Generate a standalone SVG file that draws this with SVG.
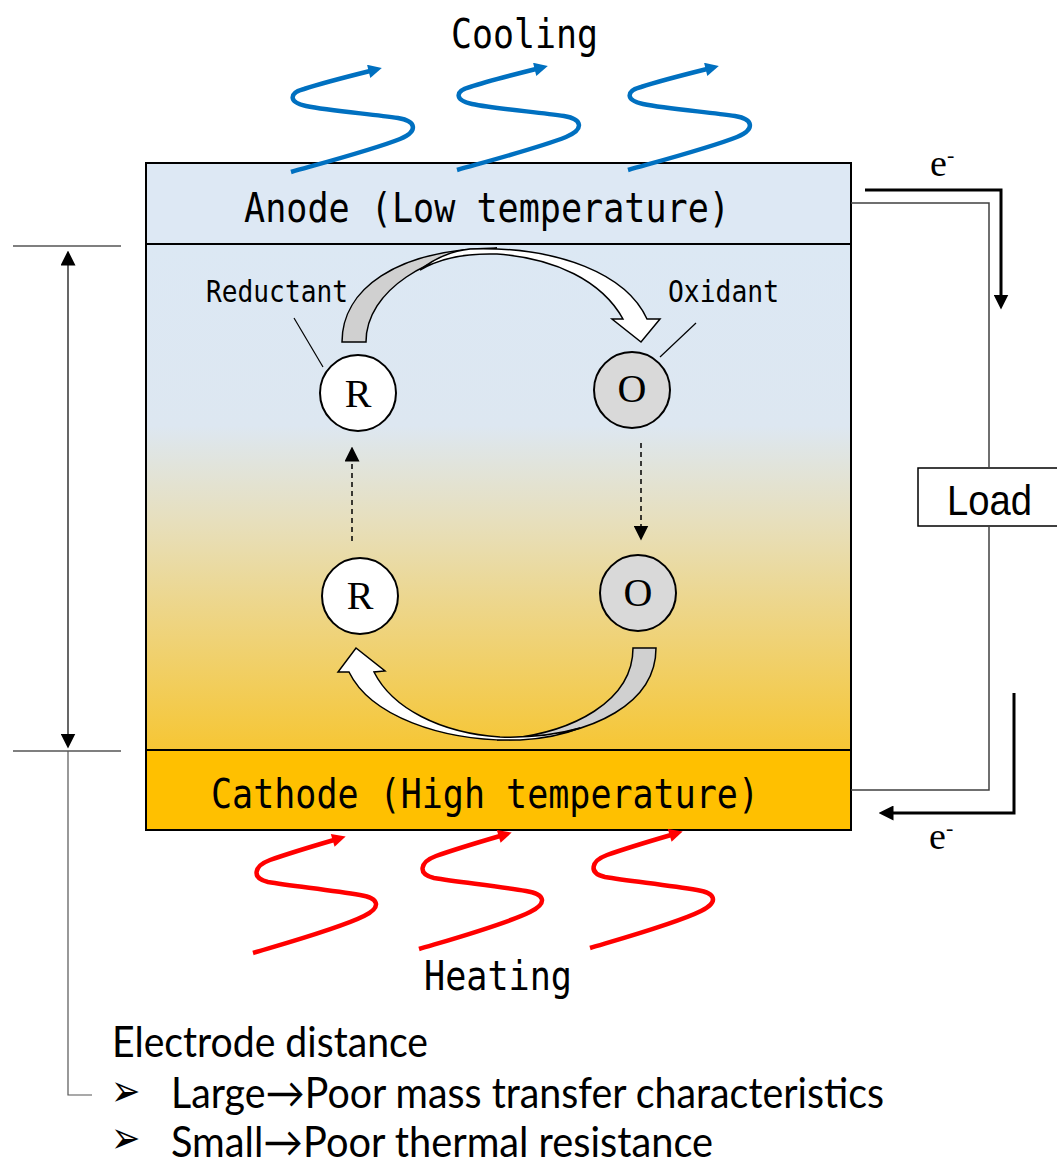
<svg xmlns="http://www.w3.org/2000/svg" width="1057" height="1164" viewBox="0 0 1057 1164">
<style>
.mono{font-family:"DejaVu Sans Mono",monospace;fill:#000}
.serif{font-family:"Liberation Serif","Times New Roman",serif;fill:#000}
.cal{font-family:Lato,"DejaVu Sans",sans-serif;fill:#000}
.bul{font-family:"DejaVu Sans",sans-serif;fill:#000}
.wave{fill:none;stroke-width:4.5;stroke-linecap:butt}
.cool{stroke:#0070c0}
.heat{stroke:#ff0000}
.wire{fill:none;stroke:#404040;stroke-width:1.5}
.earrow{fill:none;stroke:#000;stroke-width:3}
.thin{fill:none;stroke:#000;stroke-width:1.2}
.dash{fill:none;stroke:#000;stroke-width:1.5;stroke-dasharray:5 4}
.circ{stroke:#000;stroke-width:2}
</style>
<defs>
<marker id="mBlue" viewBox="0 0 10 10" refX="1" refY="5" markerWidth="3.6" markerHeight="3" orient="auto" markerUnits="strokeWidth"><path d="M0,0 L10,5 L0,10 Z" fill="#0070c0"/></marker>
<marker id="mRed" viewBox="0 0 10 10" refX="1" refY="5" markerWidth="3.6" markerHeight="3" orient="auto" markerUnits="strokeWidth"><path d="M0,0 L10,5 L0,10 Z" fill="#ff0000"/></marker>
<marker id="mBlk" viewBox="0 0 10 10" refX="1" refY="5" markerWidth="15" markerHeight="15" orient="auto-start-reverse" markerUnits="userSpaceOnUse"><path d="M0,0 L10,5 L0,10 Z" fill="#000"/></marker>
<marker id="mBlkS" viewBox="0 0 10 10" refX="1" refY="5" markerWidth="15" markerHeight="15" orient="auto" markerUnits="userSpaceOnUse"><path d="M0,0 L10,5 L0,10 Z" fill="#000"/></marker>
<linearGradient id="bodyGrad" x1="0" y1="0" x2="0" y2="1">
<stop offset="0" stop-color="#dce8f4"/>
<stop offset="0.36" stop-color="#dde7f1"/>
<stop offset="0.55" stop-color="#e7dfbc"/>
<stop offset="0.75" stop-color="#eed480"/>
<stop offset="1" stop-color="#f6c634"/>
</linearGradient>
<path id="coolWave" d="M291,172 C330,161 375,149 400,139 C419,131 416,121 398,118 C372,114 330,111 306,106 C288,102 289,93 304,89 C322,83 346,77 370,71"/>
<path id="heatWave" d="M253,953 C290,942 340,928 364,916 C382,907 379,898 360,895 C330,890 292,886 268,882 C251,878 254,866 270,860 C290,853 310,847 334,840"/>
</defs>

<g id="cell-body">
<rect x="146" y="244" width="705" height="506" fill="url(#bodyGrad)" stroke="#000" stroke-width="2"/>
</g>
<g id="anode">
<rect x="146" y="163" width="705" height="81" fill="#dde8f4" stroke="#000" stroke-width="2"/>
<text class="mono" x="244" y="222" font-size="40" textLength="486" lengthAdjust="spacingAndGlyphs">Anode (Low temperature)</text>
</g>
<g id="cathode">
<rect x="146" y="750" width="705" height="80" fill="#ffc000" stroke="#000" stroke-width="2"/>
<text class="mono" x="211" y="808" font-size="40" textLength="548" lengthAdjust="spacingAndGlyphs">Cathode (High temperature)</text>
</g>

<g id="cooling">
<use href="#coolWave" class="wave cool" marker-end="url(#mBlue)"/>
<use href="#coolWave" class="wave cool" marker-end="url(#mBlue)" transform="translate(166,-2)"/>
<use href="#coolWave" class="wave cool" marker-end="url(#mBlue)" transform="translate(337,-2)"/>
<text class="mono" x="451" y="48" font-size="40" textLength="147" lengthAdjust="spacingAndGlyphs">Cooling</text>
</g>
<g id="heating">
<use href="#heatWave" class="wave heat" marker-end="url(#mRed)"/>
<use href="#heatWave" class="wave heat" marker-end="url(#mRed)" transform="translate(166,-4)"/>
<use href="#heatWave" class="wave heat" marker-end="url(#mRed)" transform="translate(337,-5)"/>
<text class="mono" x="424" y="990" font-size="40" textLength="148" lengthAdjust="spacingAndGlyphs">Heating</text>
</g>

<g id="upper-curved-arrow">
<path d="M342,342 C342,290 395,249 497,248 C430,252 366,290 366,342 Z" fill="#d0d0d0" stroke="#000" stroke-width="1.5"/>
<path d="M470,249 C560,246 627,275 647,319 L660,319 L641,342 L612,319 L623,319 C602,281 555,258 497,254 C465,253 440,258 420,270 C435,258 452,251 470,249 Z" fill="#fff" stroke="#000" stroke-width="1.5" stroke-linejoin="miter"/>
</g>
<g id="lower-curved-arrow">
<path d="M633,648 L656,648 C656,700 600,738 497,740 C575,734 633,700 633,648 Z" fill="#d0d0d0" stroke="#000" stroke-width="1.5"/>
<path d="M520,740 C440,742 370,715 349,672 L338,672 L356,648 L385,671 L374,672 C392,708 440,733 500,737 C530,738 555,735 580,728 C560,736 540,739 520,740 Z" fill="#fff" stroke="#000" stroke-width="1.5"/>
</g>

<g id="node-R-top">
<circle class="circ" cx="358" cy="393" r="38" fill="#fff"/>
<text class="serif" x="358" y="407" font-size="40" text-anchor="middle">R</text>
</g>
<g id="node-O-top">
<circle class="circ" cx="632" cy="390" r="38" fill="#d9d9d9"/>
<text class="serif" x="632" y="402" font-size="40" text-anchor="middle">O</text>
</g>
<g id="node-R-bottom">
<circle class="circ" cx="360" cy="596" r="38" fill="#fff"/>
<text class="serif" x="360" y="609" font-size="40" text-anchor="middle">R</text>
</g>
<g id="node-O-bottom">
<circle class="circ" cx="638" cy="593" r="38" fill="#d9d9d9"/>
<text class="serif" x="638" y="606" font-size="40" text-anchor="middle">O</text>
</g>

<g id="label-reductant">
<text class="mono" x="206" y="302" font-size="30" textLength="142" lengthAdjust="spacingAndGlyphs">Reductant</text>
</g>
<g id="label-oxidant">
<text class="mono" x="668" y="302" font-size="30" textLength="111" lengthAdjust="spacingAndGlyphs">Oxidant</text>
</g>

<g id="load">
<rect x="918" y="468" width="150" height="58" fill="#fff" stroke="#000" stroke-width="1.5"/>
<text x="947" y="515" font-family="'Liberation Sans',Arial,sans-serif" font-size="43" textLength="85" lengthAdjust="spacingAndGlyphs">Load</text>
</g>
<g id="electron-labels">
<text class="serif" x="930" y="176" font-size="38">e<tspan font-size="22" dy="-14">-</tspan></text>
<text class="serif" x="929" y="849" font-size="38">e<tspan font-size="22" dy="-14">-</tspan></text>
</g>

<g id="connectors">
<line x1="294" y1="318" x2="323" y2="367" class="thin" stroke-width="1"/>
<line x1="660" y1="357" x2="696" y2="323" class="thin" stroke-width="1"/>
<line x1="352" y1="541" x2="352" y2="460" class="dash" marker-end="url(#mBlkS)"/>
<line x1="641" y1="443" x2="641" y2="527" class="dash" marker-end="url(#mBlkS)"/>
<path class="wire" d="M851,203 H989 V468"/>
<path class="wire" d="M989,526 V790 H851"/>
<path class="earrow" d="M865,190 H1001 V296" marker-end="url(#mBlkS)"/>
<path class="earrow" d="M1014,693 V813 H892" marker-end="url(#mBlkS)"/>
<line x1="13" y1="246" x2="121" y2="246" class="thin"/>
<line x1="13" y1="751" x2="121" y2="751" class="thin" stroke="#444"/>
<line x1="68" y1="264" x2="68" y2="735" class="thin" marker-start="url(#mBlk)" marker-end="url(#mBlk)"/>
<path d="M68,751 V1095 H92" fill="none" stroke="#555" stroke-width="1.2"/>
</g>

<g id="electrode-distance-note">
<text class="cal" x="112" y="1057" font-size="42" textLength="316" lengthAdjust="spacingAndGlyphs">Electrode distance</text>
<text class="bul" transform="translate(111,1106) scale(1.25,1.6)" font-size="28">➢</text>
<text class="cal" x="171" y="1108" font-size="42" textLength="713" lengthAdjust="spacingAndGlyphs">Large→Poor mass transfer characteristics</text>
<text class="bul" transform="translate(111,1153) scale(1.25,1.6)" font-size="28">➢</text>
<text class="cal" x="171" y="1157" font-size="42" textLength="542" lengthAdjust="spacingAndGlyphs">Small→Poor thermal resistance</text>
</g>
</svg>
